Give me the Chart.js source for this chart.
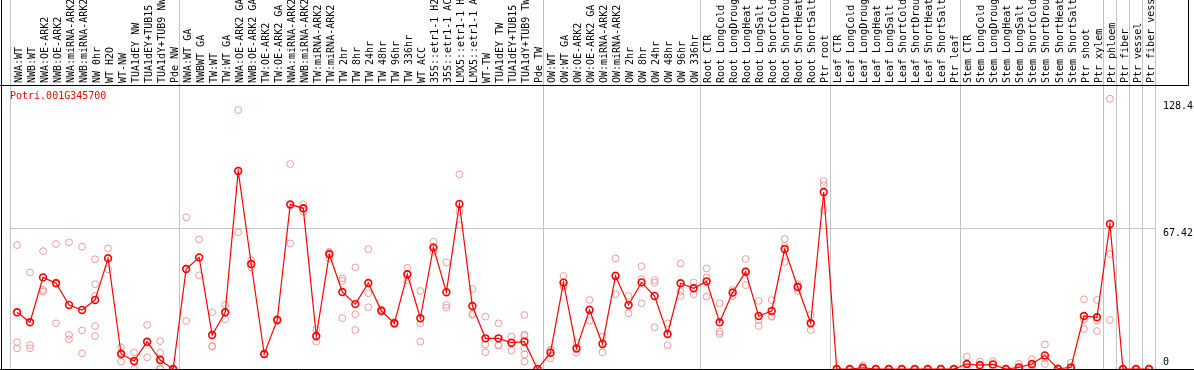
<!DOCTYPE html>
<html>
<head>
<meta charset="utf-8">
<script src="https://cdn.jsdelivr.net/npm/chart.js@4.4.1/dist/chart.umd.min.js"></script>
<style>
  html, body { margin: 0; padding: 0; background: #fff; }
  #wrap { position: relative; width: 1194px; height: 370px; overflow: hidden; }
  #gene { position: absolute; left: 10px; top: 90px; font: 10px "DejaVu Sans Mono", monospace; color: #ff0000; }
</style>
</head>
<body>
<div id="wrap">
  <canvas id="chart" width="1194" height="370"></canvas>
  <div id="gene">Potri.001G345700</div>
</div>
<script>
const categories = [
  "NWA:WT", "NWB:WT", "NWA:OE-ARK2", "NWB:OE-ARK2", "NWA:miRNA-ARK2", "NWB:miRNA-ARK2",
  "NW 0hr", "WT H2O", "WT-NW", "TUA1dEY NW", "TUA1dEY+TUB15 NW", "TUA1dY+TUB9 NW", "Pde NW",
  "NWA:WT GA", "NWBWT GA", "TW:WT", "TW:WT GA", "NWA:OE-ARK2 GA", "NWB:OE-ARK2 GA",
  "TW:OE-ARK2", "TW:OE-ARK2 GA", "NWA:miRNA-ARK2 GA", "NWB:miRNA-ARK2 GA", "TW:miRNA-ARK2",
  "TW:miRNA-ARK2 GA", "TW 2hr", "TW 8hr", "TW 24hr", "TW 48hr", "TW 96hr", "TW 336hr",
  "WT ACC", "35S::etr1-1 H2O", "35S::etr1-1 ACC", "LMX5::etr1-1 H2O", "LMX5::etr1-1 ACC",
  "WT-TW", "TUA1dEY TW", "TUA1dEY+TUB15 TW", "TUA1dY+TUB9 TW", "Pde TW",
  "OW:WT", "OW:WT GA", "OW:OE-ARK2", "OW:OE-ARK2 GA", "OW:miRNA-ARK2", "OW:miRNA-ARK2 GA",
  "OW 2hr", "OW 8hr", "OW 24hr", "OW 48hr", "OW 96hr", "OW 336hr",
  "Root CTR", "Root LongCold", "Root LongDrought", "Root LongHeat", "Root LongSalt",
  "Root ShortCold", "Root ShortDrought", "Root ShortHeat", "Root ShortSalt", "Ptr root",
  "Leaf CTR", "Leaf LongCold", "Leaf LongDrought", "Leaf LongHeat", "Leaf LongSalt",
  "Leaf ShortCold", "Leaf ShortDrought", "Leaf ShortHeat", "Leaf ShortSalt", "Ptr leaf",
  "Stem CTR", "Stem LongCold", "Stem LongDrought", "Stem LongHeat", "Stem LongSalt",
  "Stem ShortCold", "Stem ShortDrought", "Stem ShortHeat", "Stem ShortSalt",
  "Ptr shoot", "Ptr xylem", "Ptr phloem", "Ptr fiber", "Ptr vessel", "Ptr fiber vessel"
];

// mean expression per sample (red line)
const means = [
  27.2, 22.4, 43.9, 41.1, 30.7, 28.3, 33.1, 53.0, 7.2, 3.8, 13.1, 4.3, 0,
  47.9, 53.5, 16.3, 27.2, 94.9, 50.3, 7.2, 23.5, 78.9, 77.0, 15.8, 55.0,
  36.9, 31.1, 41.2, 27.9, 21.9, 45.4, 24.3, 58.3, 36.8, 79.1, 30.2,
  14.7, 14.7, 12.6, 13.1, 0,
  7.8, 41.4, 9.9, 28.3, 12.0, 44.6, 30.7, 41.5, 35.0, 16.8, 41.1, 38.7,
  42.0, 22.4, 36.6, 46.6, 25.4, 27.8, 57.5, 39.3, 22.0, 84.8,
  0, 0, 0.6, 0, 0, 0, 0, 0, 0, 0,
  2.4, 1.9, 2.2, 0, 0.8, 2.4, 6.5, 0.1, 0.8,
  25.4, 24.8, 69.5, 0, 0, 0
];

// individual replicates per sample (pink circles)
const replicates = [
  [59.4, 12.8, 9.9], [46.3, 11.5, 9.9], [56.5, 37.9, 37.1], [59.9, 21.9, 41.5],
  [60.7, 16.3, 14.2], [58.6, 18.5, 7.5], [52.6, 40.6, 35.0, 20.6, 15.8], [57.8, 47.8, 53.4],
  [10.4, 3.5, 7.7], [8.0, 0, 3.4], [21.1, 5.6, 12.6], [13.4, 7.8, 5.1, 0, 0, 0], [0, 0, 0],
  [72.7, 48.2, 23.0], [62.1, 44.9, 53.5], [27.2, 10.7, 11.0], [30.7, 23.8, 27.1],
  [124.1, 65.5, 95.1], [52.2, 48.7, 50.0], [7.5, 7.0, 7.1], [24.0, 23.0, 23.5],
  [98.2, 60.2, 78.3], [78.9, 75.4, 76.7], [19.0, 13.1, 15.3], [56.2, 53.0, 55.8],
  [43.5, 42.3, 24.4], [48.7, 26.2, 18.7], [57.4, 36.3, 29.6], [28.5, 27.5, 27.8],
  [22.5, 21.5, 21.7], [48.5, 42.6, 45.1], [37.4, 21.9, 13.1], [61.0, 56.2, 57.7],
  [51.1, 30.7, 29.4], [93.3, 75.4, 69.0], [38.3, 25.9, 26.4], [25.1, 11.8, 8.0],
  [21.9, 11.5, 11.2], [15.5, 12.4, 8.8], [25.9, 16.5, 15.8, 10.0, 7.0, 3.5], [0, 0, 0],
  [9.1, 5.1, 9.2], [44.6, 39.4, 40.2], [12.6, 7.8, 9.3], [33.1, 23.1, 28.7],
  [15.5, 8.0, 12.5], [53.0, 35.8, 45.0], [35.0, 26.7, 30.4], [49.2, 43.1, 31.5],
  [42.6, 41.4, 20.0], [21.9, 11.4, 17.1], [50.6, 37.1, 35.0], [41.4, 35.8, 38.9],
  [48.2, 43.9, 34.7], [31.5, 17.9, 16.8], [37.9, 35.0, 36.9], [52.7, 40.2, 46.9],
  [32.6, 23.5, 20.6], [33.0, 25.0, 25.4], [62.3, 51.3, 58.9], [40.7, 37.4, 39.8],
  [25.9, 18.7, 21.4], [90.1, 88.2, 76.1],
  [0, 0, 0], [0, 0, 0], [1.8, 0, 0], [0, 0, 0], [0, 0, 0], [0, 0, 0], [0, 0, 0],
  [0, 0, 0], [0, 0, 0], [0, 0, 0],
  [6.0, 1.2, 0], [3.5, 1.5, 0.7], [3.8, 2.0, 0.8], [0, 0, 0], [2.5, 0, 0],
  [4.7, 1.6, 0.8], [11.8, 2.4, 5.3], [0, 0, 0], [3.0, 0, 0],
  [33.4, 19.2, 23.6], [33.1, 23.2, 18.2], [129.5, 55.1, 23.5], [0, 0, 0], [0, 0, 0], [0, 0, 0]
];

// sample index where a new group starts (grey separators)
const groupStarts = [0, 13, 41, 53, 63, 73, 84, 85, 86, 87];

const yTicks = [0, 67.42, 128.4];
const yTickLabels = ["0", "67.42", "128.4"];
const yMax = 136.1;

const FONT = { family: "'DejaVu Sans Mono', monospace", size: 10 };
const SEP = "#c4c4c4";
const CLEAR = "rgba(0,0,0,0)";

const maxReps = Math.max(...replicates.map((r) => r.length));
const repSets = [];
for (let k = 0; k < maxReps; k++) {
  repSets.push({
    label: "rep" + (k + 1),
    data: replicates.map((r) => (r[k] === undefined ? null : r[k])),
    showLine: false,
    pointRadius: 3.4,
    pointBorderWidth: 1,
    pointBorderColor: "#f09a9a",
    pointBackgroundColor: CLEAR,
    borderColor: "#f09a9a",
    order: 2,
  });
}

function sepColor(ctx) {
  // the extra last grid line (right edge) has no tick index
  if (ctx.type !== "tick") return SEP;
  return groupStarts.includes(ctx.index) ? SEP : CLEAR;
}

function noPad(s) {
  s.paddingTop = 0;
  s.paddingBottom = 0;
  s.paddingLeft = 0;
  s.paddingRight = 0;
}

const framePlugin = {
  id: "frame",
  afterDraw(chart) {
    const c = chart.ctx;
    const a = chart.chartArea;
    c.save();
    c.strokeStyle = "#000";
    c.lineWidth = 1;
    c.beginPath();
    c.moveTo(0, Math.round(a.top) + 0.5);
    c.lineTo(1188.5, Math.round(a.top) + 0.5);
    c.moveTo(1188.5, 0);
    c.lineTo(1188.5, Math.round(a.top) + 0.5);
    c.moveTo(1.5, 0);
    c.lineTo(1.5, chart.height);
    c.moveTo(0, Math.round(a.bottom) + 0.5);
    c.lineTo(chart.width, Math.round(a.bottom) + 0.5);
    c.stroke();
    c.restore();
  },
};

new Chart(document.getElementById("chart"), {
  type: "line",
  data: {
    labels: categories,
    datasets: [
      {
        label: "mean",
        data: means,
        borderColor: "#ff0000",
        borderWidth: 1.2,
        pointRadius: 3.4,
        pointBorderWidth: 1.6,
        pointBorderColor: "#ff0000",
        pointBackgroundColor: CLEAR,
        tension: 0,
        order: 1,
      },
      ...repSets,
    ],
  },
  options: {
    responsive: false,
    animation: false,
    devicePixelRatio: 1,
    layout: { autoPadding: false, padding: { left: 10.5, right: 0, top: 0, bottom: 1 } },
    plugins: { legend: { display: false }, tooltip: { enabled: false } },
    scales: {
      x: {
        type: "category",
        position: "top",
        offset: true,
        grid: {
          offset: true,
          color: sepColor,
          tickColor: sepColor,
          lineWidth: 1,
          drawTicks: true,
          tickLength: 85,
        },
        border: { display: false },
        ticks: {
          autoSkip: false,
          minRotation: 90,
          maxRotation: 90,
          padding: -83,
          labelOffset: 14,
          color: "#000",
          font: FONT,
        },
        afterFit: (s) => { s.height = 85; noPad(s); },
      },
      y: {
        position: "right",
        min: 0,
        max: yMax,
        afterBuildTicks: (s) => { s.ticks = yTicks.map((v) => ({ value: v })); },
        grid: {
          drawTicks: false,
          color: (ctx) => (ctx.tick && ctx.tick.value === 67.42 ? SEP : CLEAR),
        },
        border: { display: false },
        ticks: {
          align: "start",
          crossAlign: "near",
          padding: 7.5,
          color: "#000",
          font: FONT,
          callback: (v, i) => (yTicks[i] === 0 ? [yTickLabels[i], "", ""] : yTickLabels[i]),
        },
        afterFit: (s) => { s.width = 38.5; noPad(s); },
      },
    },
  },
  plugins: [framePlugin],
});
</script>
</body>
</html>
